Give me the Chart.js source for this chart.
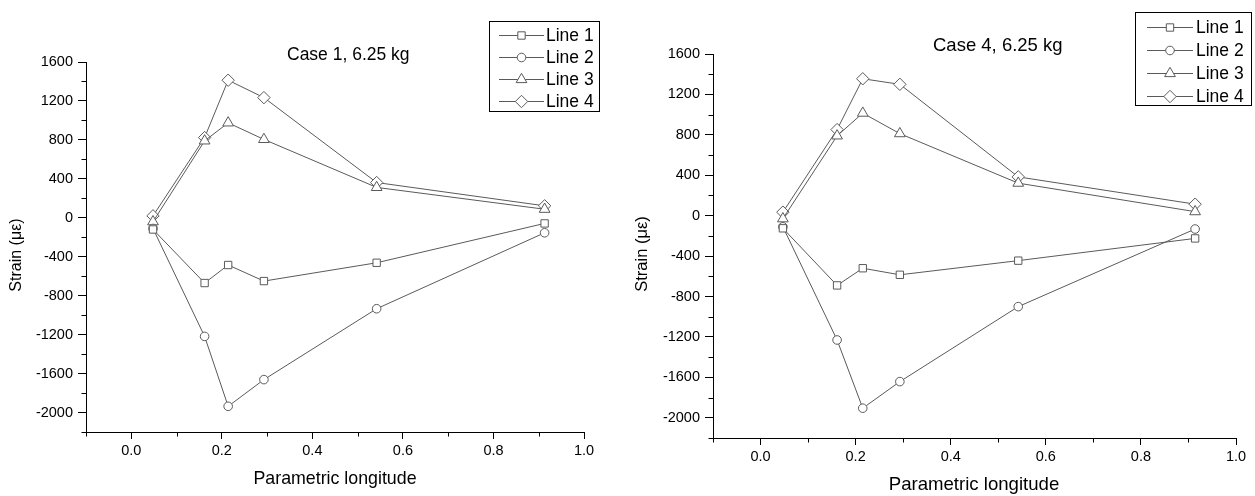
<!DOCTYPE html>
<html><head><meta charset="utf-8">
<script src="https://cdn.jsdelivr.net/npm/chart.js@4.4.1/dist/chart.umd.min.js"></script>
<style>
html,body{margin:0;padding:0;background:#fff;width:1255px;height:496px;overflow:hidden}
canvas{position:absolute;top:0}
</style></head><body>
<canvas id="c1" width="620" height="496" style="left:0px"></canvas>
<canvas id="c2" width="635" height="496" style="left:620px"></canvas>
<script>
// ---------------- data ----------------
const seriesLabels = ['Line 1', 'Line 2', 'Line 3', 'Line 4'];
const yMajorTicks = [-2000, -1600, -1200, -800, -400, 0, 400, 800, 1200, 1600];
const xMajorTicks = [0.0, 0.2, 0.4, 0.6, 0.8, 1.0];

const case1X = [0.048, 0.162, 0.214, 0.293, 0.542, 0.913];
const case1Line1 = [-120, -670, -485, -650, -462, -58];
const case1Line2 = [-110, -1218, -1936, -1662, -934, -154];
const case1Line3 = [-40, 790, 975, 805, 312, 88];
const case1Line4 = [20, 824, 1413, 1234, 362, 123];

const case4X = [0.047, 0.161, 0.215, 0.293, 0.542, 0.914];
const case4Line1 = [-125, -690, -520, -585, -445, -225];
const case4Line2 = [-110, -1230, -1905, -1642, -900, -132];
const case4Line3 = [-30, 790, 1015, 812, 322, 40];
const case4Line4 = [35, 852, 1355, 1300, 384, 114];

// ---------------- style ----------------
const FONT = '"Liberation Sans", Arial, Helvetica, sans-serif';
const LINE_COLOR = '#5a5a5a';
const pointStyles = ['rect', 'circle', 'triangle', 'rectRot'];
const pointRadii = [5.2, 4.3, 6.2, 6.2];

function pts(xs, ys) { return xs.map((x, i) => ({x: x, y: ys[i]})); }
function isMajor(list, v) { return list.some(m => Math.abs(m - v) < 1e-6); }

function makeDatasets(xs, lines) {
  return lines.map((ys, i) => ({
    label: seriesLabels[i],
    data: pts(xs, ys),
    showLine: true,
    borderColor: LINE_COLOR,
    borderWidth: 1,
    pointStyle: pointStyles[i],
    pointRadius: pointRadii[i],
    pointHoverRadius: pointRadii[i],
    pointBackgroundColor: '#ffffff',
    pointBorderColor: LINE_COLOR,
    pointBorderWidth: 1,
    tension: 0
  }));
}

const decorPlugin = {
  id: 'decor',
  afterDraw(chart, args, o) {
    const ctx = chart.ctx;
    const xs = chart.scales.x, ys = chart.scales.y;
    const ca = chart.chartArea;
    ctx.save();
    // minor ticks
    ctx.strokeStyle = '#000';
    ctx.lineWidth = 1;
    ctx.beginPath();
    ys.ticks.forEach(t => {
      if (!isMajor(yMajorTicks, t.value)) {
        const p = Math.round(ys.getPixelForValue(t.value)) + 0.5;
        ctx.moveTo(Math.round(ca.left) + 0.5, p);
        ctx.lineTo(Math.round(ca.left) + 0.5 - 5, p);
      }
    });
    xs.ticks.forEach(t => {
      if (!isMajor(xMajorTicks, t.value)) {
        const p = Math.round(xs.getPixelForValue(t.value)) + 0.5;
        ctx.moveTo(p, Math.round(ca.bottom) + 0.5);
        ctx.lineTo(p, Math.round(ca.bottom) + 0.5 + 4);
      }
    });
    ctx.stroke();

    // title
    ctx.fillStyle = '#000';
    ctx.textAlign = 'left';
    ctx.textBaseline = 'alphabetic';
    ctx.font = o.titleSize + 'px ' + FONT;
    ctx.fillText(o.title, o.titleX, o.titleY);

    // x axis title
    ctx.textAlign = 'center';
    ctx.font = o.xTitleSize + 'px ' + FONT;
    ctx.fillText('Parametric longitude', o.xTitleX, o.xTitleY);

    // y axis title
    ctx.save();
    ctx.translate(o.yTitleX, o.yTitleY);
    ctx.rotate(-Math.PI / 2);
    ctx.textAlign = 'center';
    ctx.textBaseline = 'middle';
    ctx.font = o.yTitleSize + 'px ' + FONT;
    ctx.fillText('Strain (\u03BC\u03B5)', 0, 0);
    ctx.restore();

    // legend
    const L = o.legend;
    ctx.strokeStyle = '#000';
    ctx.lineWidth = 1;
    ctx.strokeRect(L.x + 0.5, L.y + 0.5, L.w, L.h);
    ctx.font = L.size + 'px ' + FONT;
    ctx.textAlign = 'left';
    ctx.textBaseline = 'middle';
    chart.data.datasets.forEach((ds, i) => {
      const ry = Math.round(L.rowY0 + i * L.rowGap) + 0.5;
      ctx.strokeStyle = LINE_COLOR;
      ctx.beginPath();
      ctx.moveTo(L.lineX1, ry);
      ctx.lineTo(L.lineX2, ry);
      ctx.stroke();
      ctx.fillStyle = '#fff';
      ctx.strokeStyle = LINE_COLOR;
      Chart.helpers.drawPoint(ctx, {pointStyle: ds.pointStyle, radius: ds.pointRadius, rotation: 0, borderWidth: 1}, (L.lineX1 + L.lineX2) / 2, ry);
      ctx.fillStyle = '#000';
      ctx.fillText(ds.label, L.textX, ry + 1);
    });
    ctx.restore();
  }
};

function makeChart(id, xs, lines, geo, decor) {
  return new Chart(document.getElementById(id), {
    type: 'scatter',
    data: { datasets: makeDatasets(xs, lines) },
    plugins: [decorPlugin],
    options: {
      responsive: false,
      animation: false,
      devicePixelRatio: 1,
      layout: { padding: { left: 0, top: geo.top, right: geo.right, bottom: 0 } },
      plugins: { legend: { display: false }, tooltip: { enabled: false }, title: { display: false }, decor: decor },
      scales: {
        x: {
          type: 'linear', min: -0.1, max: 1.0,
          afterFit: s => { s.height = geo.xHeight; },
          afterBuildTicks: s => {
            const t = [];
            for (let k = -1; k <= 10; k++) t.push({value: Math.round(k) / 10});
            s.ticks = t;
          },
          ticks: {
            autoSkip: false, maxRotation: 0, padding: 3, color: '#000',
            font: { family: FONT, size: 14.5 },
            callback: v => isMajor(xMajorTicks, v) ? v.toFixed(1) : ''
          },
          grid: {
            display: true, drawOnChartArea: false, drawTicks: true, tickLength: 7,
            tickColor: c => (c.tick && isMajor(xMajorTicks, c.tick.value)) ? '#000' : 'rgba(0,0,0,0)'
          },
          border: { display: true, color: '#000', width: 1 }
        },
        y: {
          type: 'linear', min: -2200, max: 1600,
          afterFit: s => { s.width = geo.yWidth; },
          afterBuildTicks: s => {
            const t = [];
            for (let v = -2200; v <= 1600; v += 200) t.push({value: v});
            s.ticks = t;
          },
          ticks: {
            autoSkip: false, padding: 5, color: '#000',
            font: { family: FONT, size: 14.5 },
            callback: v => isMajor(yMajorTicks, v) ? String(v) : ''
          },
          grid: {
            display: true, drawOnChartArea: false, drawTicks: true, tickLength: 8,
            tickColor: c => (c.tick && isMajor(yMajorTicks, c.tick.value)) ? '#000' : 'rgba(0,0,0,0)'
          },
          border: { display: true, color: '#000', width: 1 }
        }
      }
    }
  });
}

makeChart('c1', case1X, [case1Line1, case1Line2, case1Line3, case1Line4],
  { top: 62, right: 36, xHeight: 64, yWidth: 86 },
  {
    title: 'Case 1, 6.25 kg', titleX: 287, titleY: 60, titleSize: 17.5,
    xTitleX: 335, xTitleY: 484, xTitleSize: 17.8,
    yTitleX: 17, yTitleY: 255, yTitleSize: 16,
    legend: { x: 489, y: 21, w: 110, h: 90, size: 17.5, rowY0: 35, rowGap: 22, lineX1: 499, lineX2: 544, textX: 546 }
  });

makeChart('c2', case4X, [case4Line1, case4Line2, case4Line3, case4Line4],
  { top: 54, right: 19, xHeight: 58, yWidth: 93 },
  {
    title: 'Case 4, 6.25 kg', titleX: 313, titleY: 51, titleSize: 18.5,
    xTitleX: 354, xTitleY: 490, xTitleSize: 18.6,
    yTitleX: 22, yTitleY: 254, yTitleSize: 16.5,
    legend: { x: 515, y: 12, w: 116, h: 93, size: 17.5, rowY0: 26.5, rowGap: 23, lineX1: 527, lineX2: 573, textX: 576 }
  });
</script>
</body></html>
